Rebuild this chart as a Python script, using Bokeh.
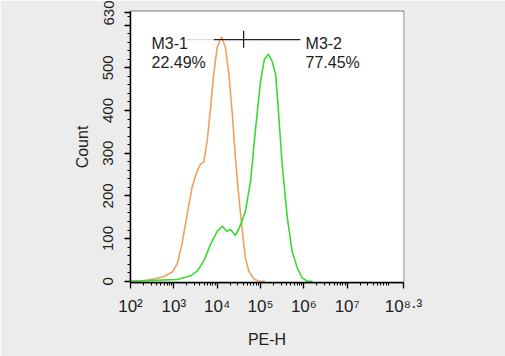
import math
from bokeh.plotting import figure
from bokeh.models import FixedTicker, Range1d, BoxAnnotation, ColumnDataSource
from bokeh.core.properties import value
from bokeh.embed import file_html
from bokeh.resources import INLINE

# ---- data (PE-H in log10 units, counts) ----
control_log_pe = [2.0, 2.3, 2.54, 2.77, 2.96, 3.08, 3.19, 3.31, 3.42, 3.54, 3.62, 3.69, 3.77,
                  3.85, 3.92, 4.0, 4.10, 4.19, 4.27, 4.35, 4.42, 4.50, 4.58, 4.65, 4.73,
                  4.85, 4.96, 5.1]
control_count = [0, 1, 5, 11, 21, 41, 88, 158, 220, 259, 275, 279, 330,
                 408, 486, 548, 573, 548, 486, 392, 290, 197, 119, 55, 24,
                 5, 0, 0]

stained_log_pe = [2.0, 2.54, 3.08, 3.38, 3.54, 3.69, 3.85, 4.0, 4.12, 4.22, 4.31, 4.42,
                  4.54, 4.65, 4.77, 4.88, 5.0, 5.09, 5.18, 5.27, 5.35, 5.42, 5.50,
                  5.62, 5.73, 5.85, 5.96, 6.08, 6.2]
stained_count = [0, 2, 4, 12, 24, 47, 87, 117, 129, 117, 121, 107,
                 132, 163, 234, 351, 468, 520, 532, 515, 484, 390, 273,
                 148, 70, 31, 8, 0, 0]

x_major_ticks = [2, 3, 4, 5, 6, 7, 8.3]
x_tick_labels = ["10²", "10³", "10⁴", "10⁵", "10⁶", "10⁷", "10⁸·³"]
y_major_ticks = [0, 100, 200, 300, 400, 500, 600, 630]
y_tick_labels = ["0", "100", "200", "300", "400", "500", "", "630"]
y_minor_ticks = [v for v in range(20, 640, 20) if v % 100 != 0]

gate_y = 566
gate_left_dotted = [3.32, 3.92]
gate_line = [3.92, 5.92]
gate_split = 4.61
gate_names = ["M3-1", "M3-2"]
gate_percents = ["22.49%", "77.45%"]
gate_label_x = [2.485, 6.04]

FONT = "Liberation Sans"
TXT = "#222222"

p = figure(width=505, height=356, output_backend="svg", toolbar_location=None,
           x_range=Range1d(2, 8.3), y_range=Range1d(-3, 632),
           min_border_left=130, min_border_right=102,
           min_border_top=11, min_border_bottom=74)

p.border_fill_color = "#ececec"
p.background_fill_color = "white"
p.outline_line_color = "black"
p.outline_line_width = 1.3
p.grid.visible = False

# page background panels
p.add_layout(BoxAnnotation(left=3, right=498, top=0, bottom=345,
                           left_units="canvas", right_units="canvas",
                           top_units="canvas", bottom_units="canvas",
                           fill_color="#f4f6f5", fill_alpha=1.0,
                           line_color="#d8d8d8", line_width=1, level="underlay"))
p.add_layout(BoxAnnotation(left=66, right=434, top=0, bottom=339,
                           left_units="canvas", right_units="canvas",
                           top_units="canvas", bottom_units="canvas",
                           fill_color="white", fill_alpha=1.0,
                           line_color=None, level="underlay"))

# curves
src_c = ColumnDataSource(dict(x=control_log_pe, y=control_count))
src_s = ColumnDataSource(dict(x=stained_log_pe, y=stained_count))
p.line("x", "y", source=src_c, line_color="#f2a062", line_width=1.6)
p.line("x", "y", source=src_s, line_color="#3ada32", line_width=1.6)

# gate marker
p.line(gate_left_dotted, [gate_y, gate_y], line_color="#aaaaaa", line_width=1, line_dash="1 1")
p.line(gate_line, [gate_y, gate_y], line_color="#222222", line_width=1.3)
p.segment(x0=[gate_split], y0=[gate_y - 19], x1=[gate_split], y1=[gate_y + 21],
          line_color="#222222", line_width=1.3)
p.text(x=gate_label_x, y=[557, 557], text=gate_names, text_font=value(FONT),
       text_font_size="16px", text_color=TXT, text_baseline="alphabetic", text_align="left")
p.text(x=gate_label_x, y=[512, 512], text=gate_percents, text_font=value(FONT),
       text_font_size="16px", text_color=TXT, text_baseline="alphabetic", text_align="left")

# x axis
xa = p.xaxis[0]
xa.ticker = FixedTicker(ticks=x_major_ticks,
                        minor_ticks=[d + math.log10(k) for d in range(2, 8) for k in range(2, 10)
                                     if d + math.log10(k) < 8.3])
xa.major_label_overrides = dict(zip(x_major_ticks, x_tick_labels))
xa.axis_label = "PE-H"
ya = p.yaxis[0]
ya.ticker = FixedTicker(ticks=y_major_ticks, minor_ticks=y_minor_ticks)
ya.major_label_overrides = dict(zip(y_major_ticks, y_tick_labels))
ya.axis_label = "Count"
ya.major_label_orientation = "vertical"
for ax in (xa, ya):
    ax.axis_line_color = "black"
    ax.axis_line_width = 1.5
    ax.major_tick_line_color = "black"
    ax.minor_tick_line_color = "black"
    ax.major_tick_line_width = 1.3
    ax.major_tick_out = 6
    ax.major_tick_in = 0
    ax.minor_tick_out = 3
    ax.minor_tick_in = 0
    ax.major_label_text_font = FONT
    ax.major_label_text_font_size = "15px"
    ax.major_label_text_color = TXT
    ax.axis_label_text_font = FONT
    ax.axis_label_text_font_size = "16px"
    ax.axis_label_text_font_style = "normal"
    ax.axis_label_text_color = TXT
xa.major_label_text_font_size = "17px"
xa.major_label_standoff = 8
xa.axis_label_standoff = 12
ya.major_label_standoff = 11
ya.axis_label_standoff = 10

open("out.html", "w").write(file_html(p, INLINE))
